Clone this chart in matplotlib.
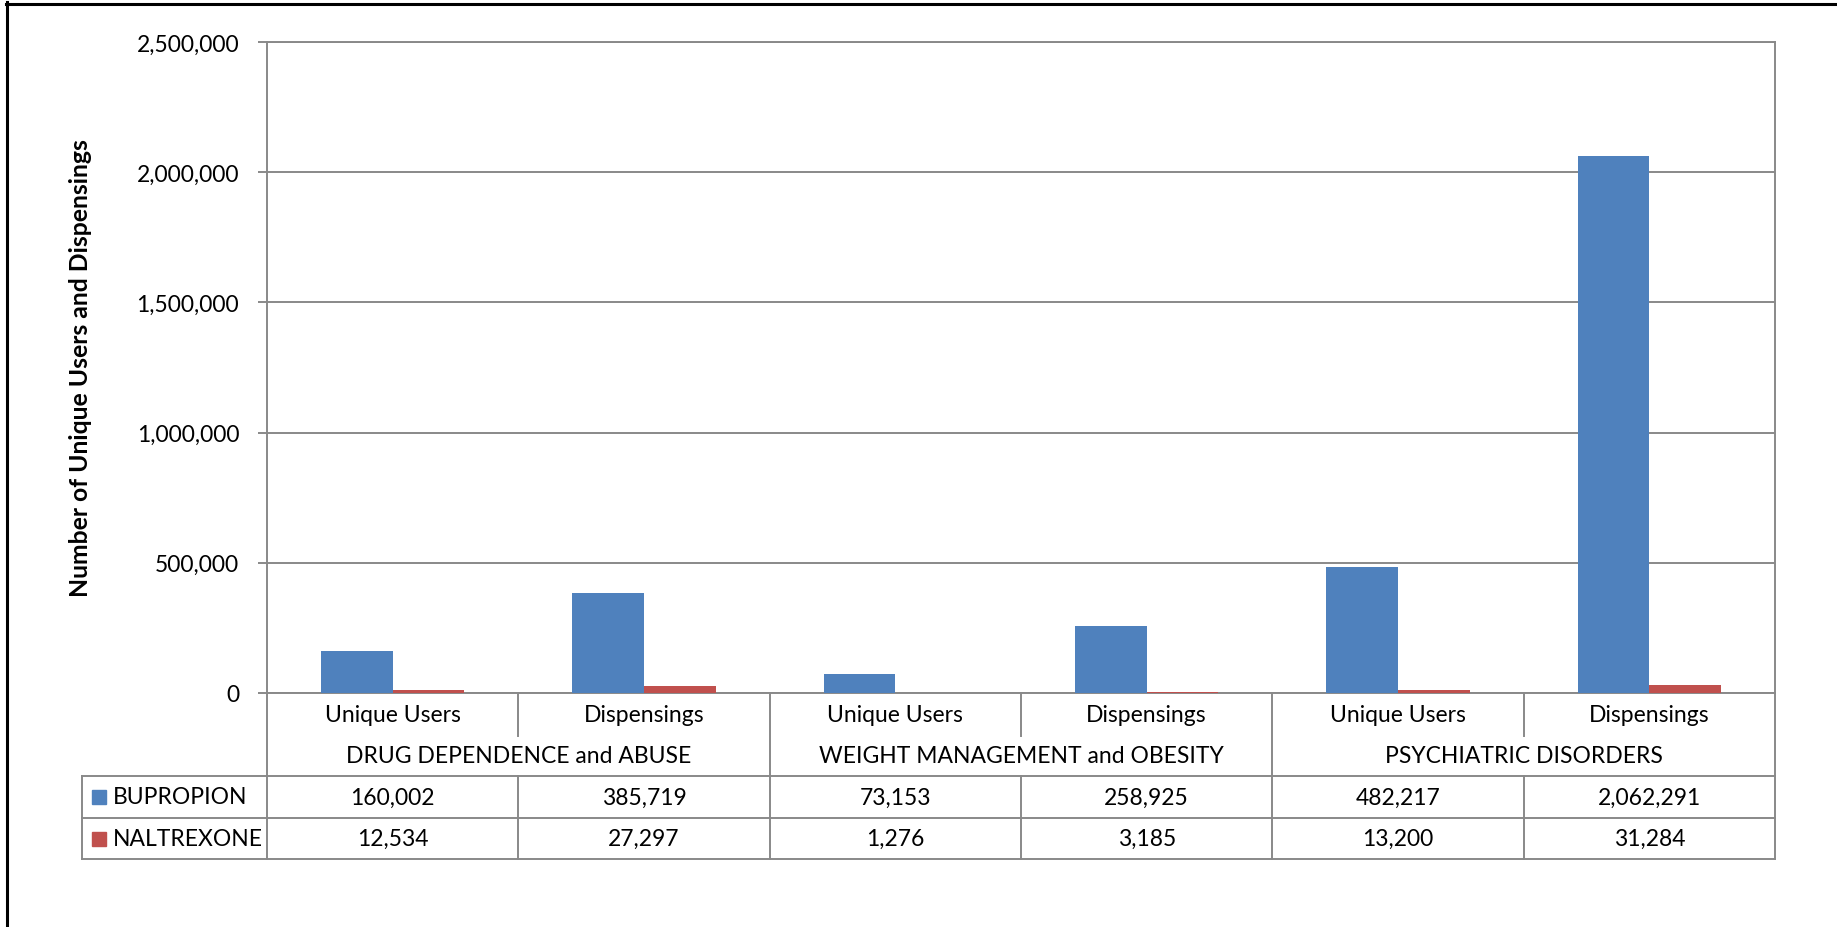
import matplotlib.pyplot as plt
import matplotlib.transforms as mtransforms
from matplotlib.lines import Line2D
from matplotlib.patches import Rectangle
from matplotlib.ticker import FuncFormatter

# usage by indication, split by measure
groups = ["DRUG DEPENDENCE and ABUSE", "WEIGHT MANAGEMENT and OBESITY", "PSYCHIATRIC DISORDERS"]
measures = ["Unique Users", "Dispensings"]
series = ["BUPROPION", "NALTREXONE"]
bupropion = [160002, 385719, 73153, 258925, 482217, 2062291]
naltrexone = [12534, 27297, 1276, 3185, 13200, 31284]
colors = ["#4F81BD", "#C0504D"]
y_ticks = [0, 500000, 1000000, 1500000, 2000000, 2500000]

W, H = 1837, 928
GRAY = "#898989"
FS = 16.5

plt.rcParams["font.family"] = ["Lato", "DejaVu Sans"]

fig = plt.figure(figsize=(W / 100, H / 100), dpi=100)
# pixel coordinates measured from the top-left corner
pix = mtransforms.Affine2D().scale(1 / W, -1 / H).translate(0, 1) + fig.transFigure

left, right, top, bottom = 267, 1775, 43, 694
ax = fig.add_axes([left / W, 1 - bottom / H, (right - left) / W, (bottom - top) / H])

n = len(bupropion)
xs = list(range(n))
bw = 1 / 3.5
ax.bar([x - bw / 2 for x in xs], bupropion, bw, color=colors[0], zorder=3)
ax.bar([x + bw / 2 for x in xs], naltrexone, bw, color=colors[1], zorder=3)

ax.set_xlim(-0.5, n - 0.5)
ax.set_ylim(0, 2500000)
ax.set_yticks(y_ticks)
ax.yaxis.set_major_formatter(FuncFormatter(lambda v, p: f"{int(v):,}"))
ax.set_xticks([])
ax.grid(axis="y", color=GRAY, lw=1.4, zorder=0)
for s in ax.spines.values():
    s.set_color(GRAY)
    s.set_linewidth(1.4)
ax.tick_params(axis="y", length=6.5, width=1.4, color=GRAY, pad=13.5, labelsize=FS)

fig.text(81 / W, 1 - 368 / H, "Number of Unique Users and Dispensings", rotation=90,
         ha="center", va="center", fontsize=17.8, fontweight="bold")

# data table under the category axis
tr = mtransforms.blended_transform_factory(ax.transData, pix)
row_sub, row_grp, row_b, row_n = 737, 777, 819, 860
label_x = -0.5 - (left - 82) / ((right - left) / n)


def line(x0, x1, y0, y1):
    fig.add_artist(Line2D([x0, x1], [y0, y1], transform=tr, color=GRAY, lw=1.4))


for i in range(len(groups) + 1):
    line(2 * i - 0.5, 2 * i - 0.5, bottom, row_n)
for i in range(len(groups)):
    line(2 * i + 0.5, 2 * i + 0.5, bottom, row_sub)
    line(2 * i + 0.5, 2 * i + 0.5, row_grp, row_n)
line(label_x, label_x, row_grp, row_n)
for y in (row_grp, row_b, row_n):
    line(label_x, n - 0.5, y, y)

for i, g in enumerate(groups):
    fig.text(2 * i + 0.5, (row_sub + row_grp) / 2, g, transform=tr, ha="center", va="center", fontsize=FS)
    for j, m in enumerate(measures):
        fig.text(2 * i + j, (bottom + row_sub) / 2, m, transform=tr, ha="center", va="center", fontsize=FS)

for k, (name, vals) in enumerate(zip(series, [bupropion, naltrexone])):
    y0, y1 = [(row_grp, row_b), (row_b, row_n)][k]
    yc = (y0 + y1) / 2
    fig.add_artist(Rectangle((92, yc + 7), 14, -14, transform=pix, color=colors[k]))
    fig.text(113, yc, name, transform=pix, ha="left", va="center", fontsize=FS)
    for x, v in zip(xs, vals):
        fig.text(x, yc, f"{v:,}", transform=tr, ha="center", va="center", fontsize=FS)

# outer frame
fig.add_artist(Line2D([6, W], [4.5, 4.5], transform=pix, color="black", lw=2.2))
fig.add_artist(Line2D([7, 7], [3, H], transform=pix, color="black", lw=2.2))

fig.savefig("out.png", dpi=100, facecolor="white")
